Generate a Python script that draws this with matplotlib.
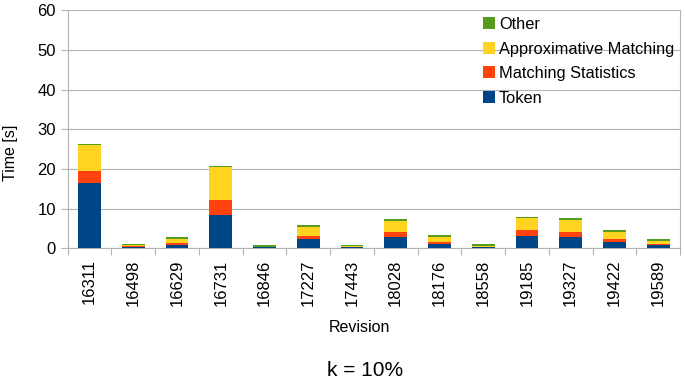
import matplotlib
matplotlib.use('Agg')
import matplotlib.pyplot as plt
import numpy as np

plt.rcParams['font.family'] = ['Liberation Sans', 'DejaVu Sans']

# data
revisions = ['16311', '16498', '16629', '16731', '16846', '17227', '17443',
             '18028', '18176', '18558', '19185', '19327', '19422', '19589']
token = [16.5, 0.3, 0.9, 8.5, 0.25, 2.3, 0.35, 2.85, 1.0, 0.35, 3.0, 2.85, 1.5, 0.85]
match_stats = [3.1, 0.2, 0.5, 3.8, 0.05, 0.75, 0.0, 1.25, 0.5, 0.0, 1.5, 1.2, 0.85, 0.25]
approx_match = [6.5, 0.25, 1.0, 8.1, 0.15, 2.35, 0.15, 2.9, 1.35, 0.25, 3.1, 3.0, 1.7, 0.65]
other = [0.3, 0.3, 0.35, 0.4, 0.45, 0.35, 0.25, 0.4, 0.4, 0.4, 0.4, 0.5, 0.5, 0.6]

series = [('Token', token, '#004586'),
          ('Matching Statistics', match_stats, '#ff420e'),
          ('Approximative Matching', approx_match, '#ffd320'),
          ('Other', other, '#579d1c')]

W, H = 685, 384
fig = plt.figure(figsize=(W / 100, H / 100), dpi=100)
ax = fig.add_axes([67.7 / W, 1 - 248.3 / H, (680 - 67.7) / W, (248.3 - 10.3) / H])

grid_c = '#b3b3b3'
x = np.arange(len(revisions))
bottom = np.zeros(len(revisions))
handles = []
for name, vals, color in series:
    b = ax.bar(x, vals, 0.52, bottom=bottom, color=color, label=name, zorder=3)
    handles.append(b)
    bottom += np.array(vals)

ax.set_xlim(-0.5, len(revisions) - 0.5)
ax.set_ylim(0, 60)
ax.set_yticks(range(0, 61, 10))
ax.yaxis.grid(True, color=grid_c, linewidth=0.8, zorder=0)
ax.set_axisbelow(True)

ax.set_xticks(x, labels=revisions, rotation=90)
ax.set_xticks(np.arange(-0.5, len(revisions), 1), minor=True)
ax.tick_params(axis='x', which='major', length=0, pad=8, labelsize=12)
ax.tick_params(axis='x', which='minor', length=5, color=grid_c, width=0.8)
ax.tick_params(axis='y', length=5, color=grid_c, width=0.8, pad=3.5, labelsize=12)

for side in ['left', 'right', 'bottom']:
    ax.spines[side].set_color(grid_c)
    ax.spines[side].set_linewidth(0.8)
ax.spines['top'].set_visible(False)

fig.text(10 / W, 1 - 153 / H, 'Time [s]', rotation=90, ha='center', va='center', fontsize=11.5)
fig.text(359 / W, 1 - 327 / H, 'Revision', ha='center', va='center', fontsize=11.5)
fig.text(365 / W, 1 - 370 / H, 'k = 10%', ha='center', va='center', fontsize=15)

ax.legend(handles[::-1], [s[0] for s in series[::-1]], loc='upper left',
          bbox_to_anchor=(483 / W, 1 - 17 / H), bbox_transform=fig.transFigure,
          frameon=False, fontsize=11.8, borderpad=0, borderaxespad=0,
          handlelength=0.72, handleheight=0.72, handletextpad=0.25,
          labelspacing=0.58)

fig.savefig('out.png', dpi=100)
